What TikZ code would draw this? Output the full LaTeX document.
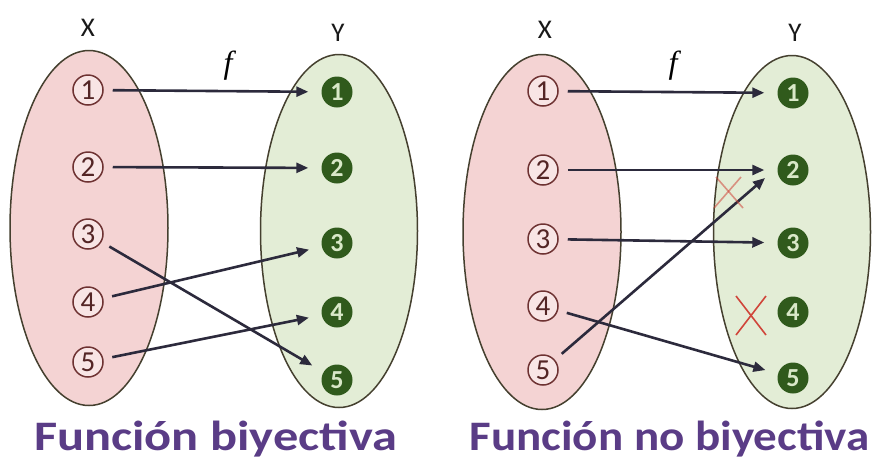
\documentclass[tikz,border=0pt]{standalone}
\usepackage{fontspec}
\setmainfont{Carlito}
\newfontfamily\fserif{Liberation Serif}
\usetikzlibrary{arrows.meta,shapes.geometric}
\definecolor{pinkfill}{HTML}{F4D3D3}
\definecolor{greenfill}{HTML}{E3EDD6}
\definecolor{setline}{HTML}{45402F}
\definecolor{xcirc}{HTML}{6E3232}
\definecolor{ydot}{HTML}{305A1C}
\definecolor{ydigit}{HTML}{D9E8C8}
\definecolor{arrcol}{HTML}{2C2A3C}
\definecolor{titlecol}{HTML}{5A3C86}
\definecolor{crosscol}{HTML}{D0453A}
\tikzset{
  setX/.style={ellipse, draw=setline, line width=1.5pt, fill=pinkfill, minimum width=158pt, minimum height=355pt, inner sep=0pt},
  setY/.style={ellipse, draw=setline, line width=1.5pt, fill=greenfill, minimum width=157pt, minimum height=353pt, inner sep=0pt},
  xel/.style={circle, draw=xcirc, line width=1.5pt, fill=pinkfill!60!white, text=xcirc!75!black, minimum size=30pt, inner sep=0pt, font=\fontsize{29}{29}\selectfont},
  yel/.style={circle, fill=ydot, text=ydigit, minimum size=31pt, inner sep=0pt, font=\fontsize{26}{26}\selectfont\bfseries},
  setlabel/.style={font=\fontsize{27}{27}\selectfont, text=black!90},
  flabel/.style={font=\fontsize{32}{32}\fserif\itshape},
  arr/.style={draw=arrcol, line width=2.6pt, -{Triangle[length=12pt,width=10pt]}, shorten <=9pt, shorten >=13pt},
  crossline/.style={draw=crosscol, line width=1.6pt},
  title/.style={text=titlecol, font=\fontsize{42}{42}\selectfont\bfseries, anchor=base},
}
\begin{document}
\begin{tikzpicture}[x=1pt,y=-1pt]
\useasboundingbox (0,0) rectangle (876,467);
\fill[white] (0,0) rectangle (876,467);

% ---------- left panel ----------
\node[setX] (LX) at (89,228) {};
\node[setY] (LY) at (339,231) {};
\node[setlabel] (LXl) at (88,28) {X};
\node[setlabel] (LYl) at (338,33) {Y};
\node[flabel] (Lf) at (228,66) {f};

\node[xel] (la1) at (88,90) {1};
\node[xel] (la2) at (88,167) {2};
\node[xel] (la3) at (88,234) {3};
\node[xel] (la4) at (88,302) {4};
\node[xel] (la5) at (88,362) {5};

\node[yel] (lb1) at (337,92) {1};
\node[yel] (lb2) at (337,168) {2};
\node[yel] (lb3) at (337,243) {3};
\node[yel] (lb4) at (337,312) {4};
\node[yel] (lb5) at (337,380) {5};

\draw[arr] (la1) -- (lb1);
\draw[arr] (la2) -- (lb2);
\draw[arr] (la3) -- (lb5);
\draw[arr] (la4) -- (lb3);
\draw[arr] (la5) -- (lb4);

% ---------- right panel ----------
\node[setX] (RX) at (542,232) {};
\node[setY] (RY) at (792,232) {};
\node[setlabel] (RXl) at (545,30) {X};
\node[setlabel] (RYl) at (795,33) {Y};
\node[flabel] (Rf) at (673,66) {f};

\node[xel] (ra1) at (543,91) {1};
\node[xel] (ra2) at (543,170) {2};
\node[xel] (ra3) at (543,239) {3};
\node[xel] (ra4) at (543,306) {4};
\node[xel] (ra5) at (543,370) {5};

\node[yel] (rb1) at (793,93) {1};
\node[yel] (rb2) at (793,170) {2};
\node[yel] (rb3) at (793,243) {3};
\node[yel] (rb4) at (793,312) {4};
\node[yel] (rb5) at (793,378) {5};

\coordinate (r2b) at (765,178);
\draw[arr] (ra1) -- (rb1);
\draw[arr] (ra2) -- (rb2);
\draw[arr] (ra3) -- (rb3);
\draw[arr] (ra4) -- (rb5);
\draw[arr, shorten >=0pt] (ra5) -- (r2b);

% crosses
\coordinate (c1a) at (716,177);
\coordinate (c1b) at (743,208);
\coordinate (c1c) at (741,177);
\coordinate (c1d) at (714,208);
\draw[crossline, opacity=0.55] (c1a) -- (c1b);
\draw[crossline, opacity=0.55] (c1c) -- (c1d);
\coordinate (c2a) at (736,296);
\coordinate (c2b) at (766,335);
\coordinate (c2c) at (766,296);
\coordinate (c2d) at (736,335);
\draw[crossline] (c2a) -- (c2b);
\draw[crossline] (c2c) -- (c2d);

% ---------- titles ----------
\node[title] (T1) at (215.5,450) {\scalebox{1.2}[1]{Función biyectiva}};
\node[title] (T2) at (669.5,450) {\scalebox{1.12}[1]{Función no biyectiva}};
\end{tikzpicture}
\end{document}
